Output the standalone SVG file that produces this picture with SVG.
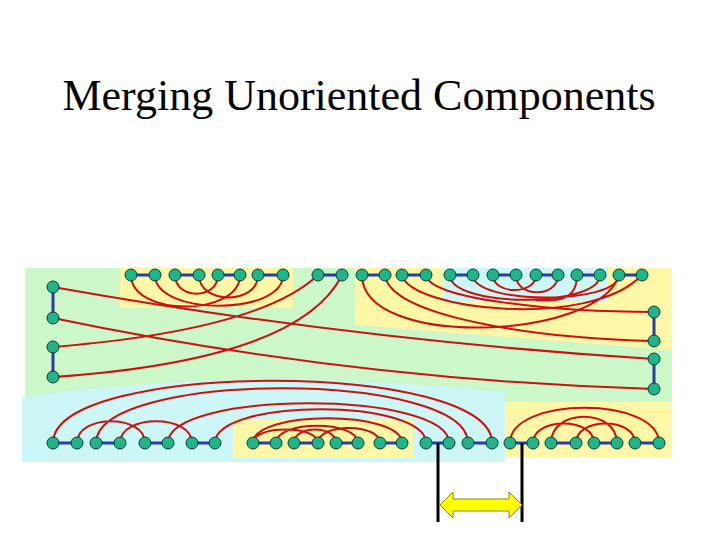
<svg xmlns="http://www.w3.org/2000/svg" width="720" height="540" viewBox="0 0 720 540">
<style>
.n{fill:#1fb48a;stroke:#0c3d2c;stroke-width:1}
.b{stroke:#2b3ea8;stroke-width:3;fill:none}
.r{stroke:#cc1111;stroke-width:2;fill:none}
</style>
<rect width="720" height="540" fill="#fff"/>
<text x="359" y="110" text-anchor="middle" font-family="'Liberation Serif', 'Times New Roman', serif" font-size="44">Merging Unoriented Components</text>
<g id="bg">
<rect x="25" y="268" width="647" height="135" fill="#ccf7c8"/>
<rect x="120" y="268" width="173" height="40" fill="#fff7a8"/>
<path d="M355 268H672V350L355 325Z" fill="#fff7a8"/>
<rect x="444" y="268" width="163" height="34" fill="#cdf7f7"/>
<path d="M22 397Q250 365 505 392V462H22Z" fill="#cdf7f7"/>
<rect x="233" y="420" width="180" height="38" fill="#fff7a8"/>
<rect x="505" y="402" width="167" height="55" fill="#fff7a8"/>
</g>
<g id="connectors">
<path class="b" d="M131 275H155M175 275H199M218 275H240M258 275H283M318 275H342M362 275H385M402 275H426M450 275H473M493 275H516M536 275H558M577 275H600M619 275H642"/>
<path class="b" d="M53 287V318M53 347V377M654 312V341M654 359V389"/>
<path class="b" d="M53 443H77M96 443H120M145 443H168M192 443H215M253 443H276M294 443H318M336 443H358M380 443H402M426 443H449M468 443H492M510 443H533M551 443H576M594 443H617M635 443H659"/>
<path class="r" d="M131 275C131 317 240 317 240 275M155 275C155 316 283 316 283 275M175 275C175 300 218 300 218 275M199 275C199 305 258 305 258 275"/>
<path class="r" d="M450 275C450 308 600 308 600 275M473 275C473 305 619 305 619 275M493 275C493 295 536 295 536 275M516 275C516 298 558 298 558 275M577 275C577 300 558 302 536 300"/>
<path class="r" d="M53 287Q350 340 654 359M53 318Q350 380 654 389M53 347Q260 330 318 275M53 377Q300 360 342 275"/>
<path class="r" d="M362 275C362 350 600 340 619 275M385 275C390 320 560 340 654 341M402 275C410 310 590 330 642 275M426 275C430 300 560 312 654 312"/>
<path class="r" d="M53 443C53 360 492 360 492 443M96 443C96 370 468 370 468 443M77 443C77 414 145 414 145 443M120 443C120 414 192 414 192 443M168 443C168 390 449 390 449 443M215 443C215 398 426 398 426 443"/>
<path class="r" d="M253 443C253 410 402 410 402 443M276 443C276 420 358 420 358 443M294 443C294 425 336 425 336 443M253 443C253 425 318 425 318 443M318 443C318 423 380 423 380 443"/>
<path class="r" d="M510 443C510 396 659 396 659 443M533 443C533 417 594 417 594 443M551 443C551 408 617 408 617 443M576 443C576 417 635 417 635 443"/>
<path d="M438 443V522M522 443V522" stroke="#000" stroke-width="3"/>
<path d="M440 505L453 492V499H509V492L522 505L509 518V511H453V518Z" fill="#ffff00" stroke="#8a8a00" stroke-width="1"/>
</g>
<g id="nodes">
<g class="n">
<circle cx="131" cy="275" r="6"/><circle cx="155" cy="275" r="6"/><circle cx="175" cy="275" r="6"/><circle cx="199" cy="275" r="6"/><circle cx="218" cy="275" r="6"/><circle cx="240" cy="275" r="6"/><circle cx="258" cy="275" r="6"/><circle cx="283" cy="275" r="6"/>
<circle cx="318" cy="275" r="6"/><circle cx="342" cy="275" r="6"/><circle cx="362" cy="275" r="6"/><circle cx="385" cy="275" r="6"/><circle cx="402" cy="275" r="6"/><circle cx="426" cy="275" r="6"/>
<circle cx="450" cy="275" r="6"/><circle cx="473" cy="275" r="6"/><circle cx="493" cy="275" r="6"/><circle cx="516" cy="275" r="6"/><circle cx="536" cy="275" r="6"/><circle cx="558" cy="275" r="6"/><circle cx="577" cy="275" r="6"/><circle cx="600" cy="275" r="6"/><circle cx="619" cy="275" r="6"/><circle cx="642" cy="275" r="6"/>
<circle cx="53" cy="287" r="6"/><circle cx="53" cy="318" r="6"/><circle cx="53" cy="347" r="6"/><circle cx="53" cy="377" r="6"/>
<circle cx="654" cy="312" r="6"/><circle cx="654" cy="341" r="6"/><circle cx="654" cy="359" r="6"/><circle cx="654" cy="389" r="6"/>
<circle cx="53" cy="443" r="6"/><circle cx="77" cy="443" r="6"/><circle cx="96" cy="443" r="6"/><circle cx="120" cy="443" r="6"/><circle cx="145" cy="443" r="6"/><circle cx="168" cy="443" r="6"/><circle cx="192" cy="443" r="6"/><circle cx="215" cy="443" r="6"/>
<circle cx="253" cy="443" r="6"/><circle cx="276" cy="443" r="6"/><circle cx="294" cy="443" r="6"/><circle cx="318" cy="443" r="6"/><circle cx="336" cy="443" r="6"/><circle cx="358" cy="443" r="6"/><circle cx="380" cy="443" r="6"/><circle cx="402" cy="443" r="6"/>
<circle cx="426" cy="443" r="6"/><circle cx="449" cy="443" r="6"/><circle cx="468" cy="443" r="6"/><circle cx="492" cy="443" r="6"/>
<circle cx="510" cy="443" r="6"/><circle cx="533" cy="443" r="6"/><circle cx="551" cy="443" r="6"/><circle cx="576" cy="443" r="6"/><circle cx="594" cy="443" r="6"/><circle cx="617" cy="443" r="6"/><circle cx="635" cy="443" r="6"/><circle cx="659" cy="443" r="6"/>
</g>
</g>
</svg>
